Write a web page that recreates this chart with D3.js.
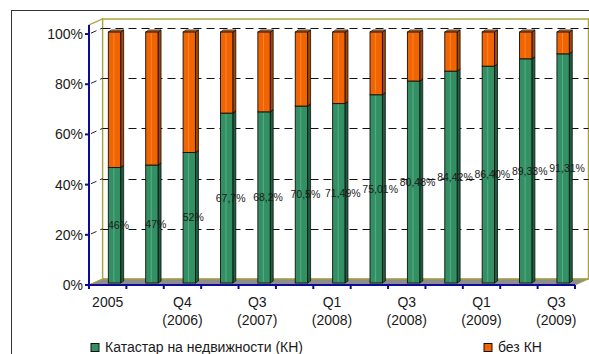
<!DOCTYPE html>
<html>
<head>
<meta charset="utf-8">
<script src="https://cdn.jsdelivr.net/npm/d3@7"></script>
<style>
  body { margin: 0; background: #fff; }
  svg { display: block; }
  text { font-family: "Liberation Sans", Arial, sans-serif; }
</style>
</head>
<body>
<svg id="chart" width="589" height="354"></svg>
<script>
// Share of records with / without cadastre (KH), per period
const categories = ["2005", "2006", "Q4 (2006)", "Q2 (2007)", "Q3 (2007)", "Q4 (2007)",
  "Q1 (2008)", "Q2 (2008)", "Q3 (2008)", "Q4 (2008)", "Q1 (2009)", "Q2 (2009)", "Q3 (2009)"];
const withKN = [46, 47, 52, 67.7, 68.2, 70.5, 71.49, 75.01, 80.48, 84.42, 86.40, 89.33, 91.31];
const withoutKN = [54, 53, 48, 32.3, 31.8, 29.5, 28.51, 24.99, 19.52, 15.58, 13.60, 10.67, 8.69];
const withKNLabels = ["46%", "47%", "52%", "67,7%", "68,2%", "70,5%", "71,49%", "75,01%",
  "80,48%", "84,42%", "86,40%", "89,33%", "91,31%"];
const yTicks = [0, 20, 40, 60, 80, 100];
const seriesNames = ["Катастар на недвижности (КН)", "без КН"];

const svg = d3.select("#chart");

// plot geometry (front plane) and 3D depth offsets
const x0 = 89, x1 = 575, yBase = 285, yTop = 25;
const DX = 13.5, DY = -6;            // wall depth
const BSX = 6.8, BSY = -2;           // bar front face offset into depth
const BDX = 3, BDY = -2;             // bar own depth

const x = d3.scaleBand().domain(categories).range([x0, x1])
  .paddingInner(0.67).paddingOuter(0.335);
const y = d3.scaleLinear().domain([0, 103.6]).range([yBase, yTop]);
const crisp = v => Math.round(v) + 0.5;

const blue = "#0b0b98", olive = "#a8a53e";
const colors = {
  green: { front: "#329164", side: "#1d5f3f", top: "#45a676" },
  orange: { front: "#f26400", side: "#a94500", top: "#f6802a" }
};

// outer frame
svg.append("rect").attr("x", 11.5).attr("y", 10.5).attr("width", 620).attr("height", 400)
  .attr("fill", "#fff").attr("stroke", "#333").attr("stroke-width", 1);

// back wall
svg.append("rect")
  .attr("x", x0 + DX).attr("y", yTop + DY)
  .attr("width", x1 - x0).attr("height", yBase - yTop)
  .attr("fill", "#fff").attr("stroke", olive).attr("stroke-width", 1.5);

// left side wall
svg.append("path")
  .attr("d", `M${x0},${yBase}L${x0},${yTop}L${x0 + DX},${yTop + DY}L${x0 + DX},${yBase + DY}Z`)
  .attr("fill", "#fff").attr("stroke", olive).attr("stroke-width", 1.2);

// floor
svg.append("path")
  .attr("d", `M${x0},${yBase}L${x0 + DX},${yBase + DY}L${x1 + DX},${yBase + DY}L${x1},${yBase}Z`)
  .attr("fill", "#8d8d8d").attr("stroke", olive).attr("stroke-width", 1);

// gridlines on back wall and side wall
const grid = svg.append("g");
yTicks.filter(t => t > 0).forEach(t => {
  const yy = y(t);
  grid.append("line")
    .attr("x1", x0 + DX).attr("x2", x1 + DX)
    .attr("y1", crisp(yy + DY)).attr("y2", crisp(yy + DY))
    .attr("stroke", "#111").attr("stroke-width", 1).attr("stroke-dasharray", "8,5");
  grid.append("line")
    .attr("x1", x0 + 2).attr("x2", x0 + DX)
    .attr("y1", yy + 2 * DY / DX).attr("y2", yy + DY)
    .attr("stroke", "#222").attr("stroke-width", 1).attr("stroke-dasharray", "6,4");
});

// 3D bar segment
function segment(g, cat, v0, v1, col) {
  const bx = x(cat) + BSX, bw = x.bandwidth();
  const yb = y(v0) + BSY, yt = y(v1) + BSY;
  const grp = g.append("g");
  grp.append("path") // side
    .attr("d", `M${bx + bw},${yb}L${bx + bw + BDX},${yb + BDY}L${bx + bw + BDX},${yt + BDY}L${bx + bw},${yt}Z`)
    .attr("fill", col.side).attr("stroke", "#111").attr("stroke-width", 0.8);
  grp.append("path") // top
    .attr("d", `M${bx},${yt}L${bx + BDX},${yt + BDY}L${bx + bw + BDX},${yt + BDY}L${bx + bw},${yt}Z`)
    .attr("fill", col.top).attr("stroke", "#111").attr("stroke-width", 0.8);
  grp.append("rect") // front
    .attr("x", bx).attr("y", yt).attr("width", bw).attr("height", yb - yt)
    .attr("fill", col.front).attr("stroke", "#111").attr("stroke-width", 0.9);
  grp.append("line") // soft highlight
    .attr("x1", bx + bw * 0.45).attr("x2", bx + bw * 0.45)
    .attr("y1", yt + 1).attr("y2", yb - 1)
    .attr("stroke", "#fff").attr("stroke-opacity", 0.22).attr("stroke-width", 1);
}

const bars = svg.append("g");
categories.forEach((c, i) => {
  segment(bars, c, 0, withKN[i], colors.green);
  segment(bars, c, withKN[i], withKN[i] + withoutKN[i], colors.orange);
});

// data labels on green segments
svg.append("g").selectAll("text").data(categories).join("text")
  .attr("x", c => x(c) + BSX + x.bandwidth() / 2 + 4)
  .attr("y", (c, i) => y(withKN[i] / 2) + BSY)
  .attr("dy", "0.35em")
  .attr("text-anchor", "middle")
  .attr("font-size", 10.5)
  .attr("fill", "#1a1a1a")
  .text((c, i) => withKNLabels[i]);

// value axis
const yAxis = svg.append("g");
yAxis.append("line").attr("x1", x0).attr("x2", x0).attr("y1", yTop).attr("y2", yBase + 1)
  .attr("stroke", blue).attr("stroke-width", 2);
yTicks.forEach(t => {
  yAxis.append("line").attr("x1", x0 - 4).attr("x2", x0).attr("y1", y(t)).attr("y2", y(t))
    .attr("stroke", blue).attr("stroke-width", 2);
  yAxis.append("text").attr("x", x0 - 6).attr("y", y(t)).attr("dy", "0.36em")
    .attr("text-anchor", "end").attr("font-size", 14).attr("fill", "#1a1a1a")
    .text(t + "%");
});

// category axis
const xAxis = svg.append("g");
xAxis.append("line").attr("x1", x0).attr("x2", x1).attr("y1", yBase).attr("y2", yBase)
  .attr("stroke", blue).attr("stroke-width", 2);
const step = x.step();
d3.range(categories.length + 1).forEach(k => {
  const xx = x0 + k * step;
  xAxis.append("line").attr("x1", xx).attr("x2", xx).attr("y1", yBase).attr("y2", yBase + 4)
    .attr("stroke", blue).attr("stroke-width", 2);
});
categories.forEach((c, i) => {
  if (i % 2) return;
  const cx = x(c) + x.bandwidth() / 2;
  const parts = c.split(" ");
  const t = xAxis.append("text").attr("text-anchor", "middle").attr("font-size", 14).attr("fill", "#1a1a1a");
  parts.forEach((p, j) => {
    t.append("tspan").attr("x", cx).attr("y", 306.5 + j * 18.5).text(p);
  });
});

// legend
const legend = svg.append("g");
const legendItems = [
  { name: seriesNames[0], color: colors.green.front, x: 91 },
  { name: seriesNames[1], color: colors.orange.front, x: 484 }
];
legendItems.forEach(d => {
  legend.append("rect").attr("x", d.x).attr("y", 343.5).attr("width", 8).attr("height", 8)
    .attr("fill", d.color).attr("stroke", "#111").attr("stroke-width", 1);
  legend.append("text").attr("x", d.x + 14).attr("y", 351.5).attr("font-size", 14).attr("fill", "#1a1a1a")
    .text(d.name);
});
</script>
</body>
</html>
